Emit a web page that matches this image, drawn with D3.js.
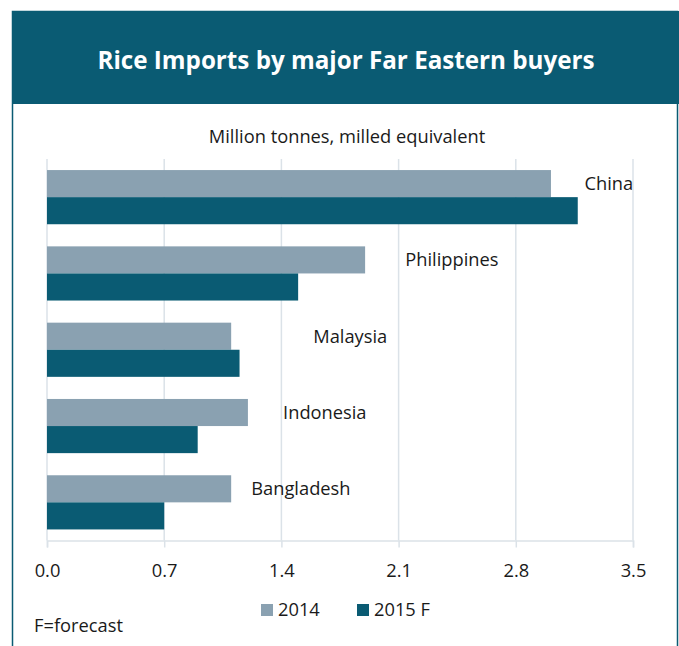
<!DOCTYPE html>
<html>
<head>
<meta charset="utf-8">
<script src="https://cdn.jsdelivr.net/npm/d3@7/dist/d3.min.js"></script>
<style>
  html, body { margin: 0; padding: 0; background: #ffffff; }
  svg { display: block; font-family: "Open Sans", "Noto Sans", sans-serif; }
</style>
</head>
<body>
<svg id="chart" width="679" height="646"></svg>
<script>
// Rice imports, million tonnes milled equivalent
const countries = ["China", "Philippines", "Malaysia", "Indonesia", "Bangladesh"];
const seriesNames = ["2014", "2015 F"];
const imports2014 = [3.01, 1.90, 1.10, 1.20, 1.10];
const imports2015 = [3.17, 1.50, 1.15, 0.90, 0.70];
// where each country name starts, in axis units
const labelAt = [3.21, 2.14, 1.59, 1.41, 1.22];
const xTicks = [0, 0.7, 1.4, 2.1, 2.8, 3.5];

const teal = "#0a5b73";
const grey = "#8aa1b1";
const gridColor = "#dbe2e8";
const textColor = "#1a1a1a";
const bodySize = 18.3;

const svg = d3.select("#chart");

// Frame and title banner
svg.append("rect")
  .attr("x", 12.5).attr("y", 11.5)
  .attr("width", 665).attr("height", 640)
  .attr("fill", "#ffffff")
  .attr("stroke", teal).attr("stroke-width", 1.5);

svg.append("rect")
  .attr("x", 12).attr("y", 11)
  .attr("width", 667).attr("height", 93)
  .attr("fill", teal);

svg.append("text")
  .attr("x", 346).attr("y", 63)
  .attr("text-anchor", "middle")
  .attr("dominant-baseline", "middle")
  .attr("fill", "#ffffff")
  .attr("font-weight", "bold")
  .attr("font-size", 24.2)
  .text("Rice Imports by major Far Eastern buyers");

svg.append("text")
  .attr("x", 347).attr("y", 138)
  .attr("text-anchor", "middle")
  .attr("dominant-baseline", "middle")
  .attr("fill", textColor)
  .attr("font-size", bodySize)
  .text("Million tonnes, milled equivalent");

// Plot area
const plot = { left: 47, right: 633, top: 159, bottom: 540.5 };

const x = d3.scaleLinear().domain([0, 3.5]).range([plot.left, plot.right]);
const y = d3.scaleBand().domain(countries).range([plot.top, plot.bottom]).paddingInner(0.29).paddingOuter(0.145);
const ySub = d3.scaleBand().domain(seriesNames).range([0, y.bandwidth()]);

// Vertical gridlines
svg.append("g")
  .selectAll("line")
  .data(xTicks)
  .join("line")
  .attr("x1", d => x(d)).attr("x2", d => x(d))
  .attr("y1", plot.top).attr("y2", plot.bottom)
  .attr("stroke", gridColor).attr("stroke-width", 1.5);

// Bars
const rows = countries.map((c, i) => ({ country: c, values: [imports2014[i], imports2015[i]] }));
const colors = d3.scaleOrdinal().domain(seriesNames).range([grey, teal]);

svg.append("g")
  .selectAll("g")
  .data(rows)
  .join("g")
  .attr("transform", d => `translate(0,${y(d.country)})`)
  .selectAll("rect")
  .data(d => d.values.map((v, j) => ({ key: seriesNames[j], value: v })))
  .join("rect")
  .attr("x", x(0))
  .attr("y", d => ySub(d.key))
  .attr("width", d => x(d.value) - x(0))
  .attr("height", ySub.bandwidth())
  .attr("fill", d => colors(d.key));

// Country names beside the bars
svg.append("g")
  .selectAll("text")
  .data(countries)
  .join("text")
  .attr("x", (d, i) => x(labelAt[i]))
  .attr("y", d => y(d) + ySub("2014") + ySub.bandwidth() / 2 + 1.5)
  .attr("dominant-baseline", "middle")
  .attr("fill", textColor)
  .attr("font-size", bodySize)
  .text(d => d);

// X axis
const xAxis = d3.axisBottom(x)
  .tickValues(xTicks)
  .tickFormat(d3.format(".1f"))
  .tickSize(7)
  .tickPadding(17);

const axisG = svg.append("g")
  .attr("transform", `translate(0,${plot.bottom})`)
  .call(xAxis);
axisG.select(".domain").attr("stroke", gridColor).attr("stroke-width", 1.5);
axisG.selectAll(".tick line").attr("stroke", gridColor).attr("stroke-width", 1.5);
axisG.selectAll(".tick text")
  .attr("fill", textColor)
  .attr("font-size", bodySize)
  .attr("font-family", "\"Open Sans\", sans-serif");

// Legend
const legendItems = [
  { name: seriesNames[0], x: 261 },
  { name: seriesNames[1], x: 357 }
];
const legend = svg.append("g");
legend.selectAll("rect")
  .data(legendItems)
  .join("rect")
  .attr("x", d => d.x).attr("y", 604)
  .attr("width", 12).attr("height", 12)
  .attr("fill", d => colors(d.name));
legend.selectAll("text")
  .data(legendItems)
  .join("text")
  .attr("x", d => d.x + 17).attr("y", 611)
  .attr("dominant-baseline", "middle")
  .attr("fill", textColor)
  .attr("font-size", bodySize)
  .text(d => d.name);

svg.append("text")
  .attr("x", 34).attr("y", 627)
  .attr("dominant-baseline", "middle")
  .attr("fill", textColor)
  .attr("font-size", bodySize)
  .text("F=forecast");
</script>
</body>
</html>
